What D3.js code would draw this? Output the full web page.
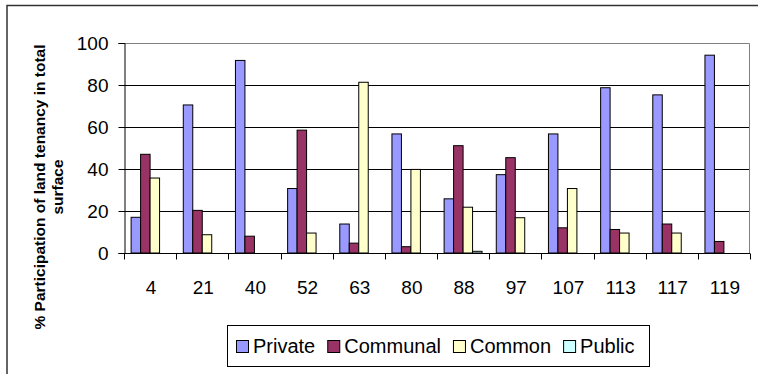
<!DOCTYPE html>
<html><head><meta charset="utf-8">
<script src="https://cdn.jsdelivr.net/npm/d3@7"></script>
<style>body{margin:0;background:#fff}svg{display:block;font-family:Arial,"Liberation Sans",sans-serif}</style>
</head><body><svg id="c" width="758" height="374"></svg>
<script>
const categories = ["4","21","40","52","63","80","88","97","107","113","117","119"];
const seriesNames = ["Private","Communal","Common","Public"];
const privateVals  = [17, 70.5, 91.7, 30.7, 13.8, 56.7, 25.8, 37.3, 56.7, 78.7, 75.3, 94.2];
const communalVals = [47, 20.3, 8, 58.5, 4.7, 3, 51.1, 45.4, 12, 11.2, 13.8, 5.5];
const commonVals   = [35.7, 8.7, 0, 9.5, 81.3, 39.8, 21.8, 16.8, 30.7, 9.5, 9.5, 0];
const publicVals   = [0, 0, 0, 0, 0, 0, 0.8, 0, 0, 0, 0, 0];
const yTicks = [0, 20, 40, 60, 80, 100];
const colors = ["#9999FF", "#993366", "#FFFFCC", "#CCFFFF"];
const seriesVals = [privateVals, communalVals, commonVals, publicVals];

const svg = d3.select("#c");
const m = {left: 124, right: 750, top: 43, bottom: 253};

// outer chart border
svg.append("rect").attr("x", 7).attr("y", 5.5).attr("width", 800).attr("height", 400)
  .attr("fill", "none").attr("stroke", "#333").attr("stroke-width", 1.5);

const x0 = d3.scaleBand().domain(categories).range([m.left, m.right]).paddingInner(0).paddingOuter(0);
const x1 = d3.scaleBand().domain(seriesNames).range([0, x0.bandwidth()]).paddingInner(0).paddingOuter(0.75);
const y = d3.scaleLinear().domain([0, 100]).range([m.bottom, m.top]);

// gridlines
svg.append("g").selectAll("line").data(yTicks.filter(t => t > 0 && t < 100)).join("line")
  .attr("x1", m.left).attr("x2", m.right)
  .attr("y1", d => Math.round(y(d)) + 0.5).attr("y2", d => Math.round(y(d)) + 0.5)
  .attr("stroke", "#000").attr("stroke-width", 1);

// plot area border (gray)
svg.append("path")
  .attr("d", `M${m.left},${m.top + 0.5}H${m.right - 0.5}V${m.bottom}`)
  .attr("fill", "none").attr("stroke", "#808080").attr("stroke-width", 1);

// bars
const g = svg.append("g");
categories.forEach((c, i) => {
  seriesVals.forEach((vals, s) => {
    const v = vals[i];
    if (v <= 0) return;
    g.append("rect")
      .attr("x", x0(c) + x1(seriesNames[s]))
      .attr("y", y(v))
      .attr("width", x1.bandwidth())
      .attr("height", y(0) - y(v))
      .attr("fill", colors[s]).attr("stroke", "#000").attr("stroke-width", 1);
  });
});

// y axis
const yAxis = d3.axisLeft(y).tickValues(yTicks).tickSize(6).tickPadding(10);
const ya = svg.append("g").attr("transform", `translate(${m.left + 0.5},0)`).call(yAxis);
ya.select(".domain").attr("stroke", "#000");
ya.selectAll(".tick line").attr("stroke", "#000");
ya.selectAll("text").attr("font-size", 19).attr("font-family", "Arial, 'Liberation Sans', sans-serif").attr("fill", "#000");

// x axis with ticks at category boundaries
const xa = svg.append("g").attr("transform", `translate(0,${m.bottom + 0.5})`);
xa.append("line").attr("x1", m.left).attr("x2", m.right).attr("stroke", "#000");
const bounds = categories.map(c => x0(c)).concat([m.right]);
xa.selectAll("line.tk").data(bounds).join("line").attr("class", "tk")
  .attr("x1", d => Math.round(d) + 0.5).attr("x2", d => Math.round(d) + 0.5)
  .attr("y1", 0).attr("y2", 6).attr("stroke", "#000");
xa.selectAll("text").data(categories).join("text")
  .attr("x", d => x0(d) + x0.bandwidth() / 2 + 1).attr("y", 40)
  .attr("text-anchor", "middle").attr("font-size", 19).attr("fill", "#000").text(d => d);

// y title
const yt = svg.append("text").attr("transform", "translate(0,187) rotate(-90)")
  .attr("text-anchor", "middle").attr("font-weight", "bold").attr("font-size", 15.5).attr("fill", "#000");
yt.append("tspan").attr("x", 0).attr("y", 45).text("% Participation of land tenancy in total");
yt.append("tspan").attr("x", 0).attr("y", 63).text("surface");

// legend
const lg = svg.append("g");
lg.append("rect").attr("x", 227.5).attr("y", 325.5).attr("width", 422).attr("height", 41)
  .attr("fill", "#fff").attr("stroke", "#000").attr("stroke-width", 1);
let lx = 236;
seriesNames.forEach((n, s) => {
  lg.append("rect").attr("x", lx + 0.5).attr("y", 340.5).attr("width", 12).attr("height", 12)
    .attr("fill", colors[s]).attr("stroke", "#000");
  const t = lg.append("text").attr("x", lx + 17).attr("y", 353).attr("font-size", 20).attr("fill", "#000").text(n);
  lx = lx + 17 + t.node().getComputedTextLength() + 12;
});
</script></body></html>
